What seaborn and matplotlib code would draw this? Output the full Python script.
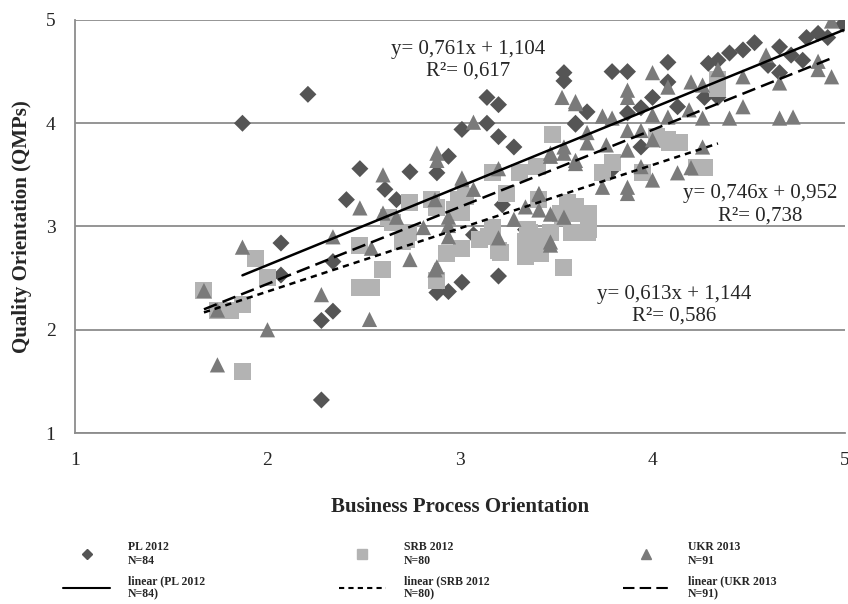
import matplotlib
matplotlib.use("Agg")
import matplotlib.pyplot as plt
import seaborn as sns
import pandas as pd
import numpy as np
from matplotlib.lines import Line2D

# ---- data ----
series_names = ['PL 2012', 'SRB 2012', 'UKR 2013']
legend_points = ['PL 2012\nN=84', 'SRB 2012\nN=80', 'UKR 2013\nN=91']
legend_lines = ['linear (PL 2012\nN=84)', 'linear (SRB 2012\nN=80)', 'linear (UKR 2013\nN=91)']

pl_x = [1.87, 2.21, 2.48, 2.41, 2.07, 2.07, 2.34, 2.28, 2.34, 2.28,
        3.14, 3.20, 3.14, 3.01, 3.20, 3.28, 2.94, 2.88, 2.74, 2.61, 2.67, 3.54, 3.54, 3.60,
        2.88, 2.94, 3.01, 3.20, 3.07, 3.34, 3.22,
        3.79, 3.87, 4.08, 4.08, 4.00, 4.13, 3.94, 3.87, 3.66, 3.60, 3.94, 4.29, 4.34, 4.40,
        4.47, 4.53, 4.66, 4.60, 4.72, 4.78, 4.80, 4.86, 4.91, 4.99, 4.66, 4.27, 4.34, 3.79]
pl_y = [4.00, 4.28, 3.56, 3.26, 2.84, 2.53, 2.66, 2.09, 2.18, 1.32,
        4.25, 4.18, 4.00, 3.94, 3.87, 3.77, 3.68, 3.52, 3.53, 3.36, 3.26, 4.49, 4.41, 4.00,
        2.36, 2.37, 2.46, 2.52, 2.92, 2.97, 3.21,
        4.50, 4.50, 4.59, 4.40, 4.25, 4.16, 4.15, 4.10, 4.11, 3.99, 3.77, 4.58, 4.61, 4.68,
        4.71, 4.78, 4.74, 4.56, 4.66, 4.61, 4.83, 4.87, 4.83, 4.96, 4.49, 4.25, 4.25, 3.55]

srb_x = [1.67, 1.74, 1.81, 1.87, 1.94, 2.00, 1.87, 2.48, 2.48, 2.54, 2.60, 2.72, 2.73,
         2.85, 2.99, 2.65, 2.74, 2.63, 2.88, 2.93, 3.01, 3.20, 3.34, 3.34, 3.54, 2.70,
         3.15, 3.17, 3.43, 3.47, 2.88, 2.97, 3.01, 3.56, 3.52, 3.35,
         3.48, 4.08, 4.14, 4.27, 4.23, 4.34, 4.34, 4.09, 3.67, 3.67, 3.60, 3.74, 3.95,
         3.03, 3.17, 3.31, 3.24, 3.40, 3.41, 3.60, 3.53, 3.58, 3.66, 3.36, 3.10, 3.21,
         3.42, 4.02, 3.79]
srb_y = [2.38, 2.19, 2.19, 2.24, 2.69, 2.51, 1.60, 2.82, 2.41, 2.41, 2.58, 2.87, 2.94,
         3.26, 3.26, 3.04, 3.23, 3.09, 2.48, 2.74, 2.79, 2.77, 2.71, 2.85, 2.60, 2.85,
         2.90, 2.99, 2.90, 2.94, 3.18, 3.16, 3.14, 3.23, 3.13, 2.97,
         3.89, 3.84, 3.81, 3.57, 3.57, 4.34, 4.42, 3.81, 2.97, 3.13, 3.13, 3.52, 3.52,
         3.29, 3.52, 3.52, 3.32, 3.58, 3.26, 3.19, 3.09, 2.94, 2.94, 2.94, 2.87, 2.75,
         2.74, 3.87, 3.62]

ukr_x = [1.67, 1.74, 1.74, 1.87, 2.00, 2.28, 2.34, 2.53, 2.48,
         2.60, 2.60, 2.67, 2.54, 2.74, 2.88, 2.88, 2.87, 2.94, 2.87, 2.81,
         3.07, 3.01, 3.07, 3.20, 3.53, 3.60, 3.47, 3.54, 3.41,
         2.88, 2.94, 2.94, 3.20, 3.28, 3.41, 3.47, 3.54, 3.47,
         4.93, 4.86, 4.93, 4.86, 4.59, 4.47, 4.66, 4.00, 3.87, 3.87, 4.20, 4.26, 4.08,
         4.47, 4.66, 4.73, 4.26, 4.40, 4.19, 4.08, 4.00, 3.60, 3.74, 3.79, 3.94, 4.26,
         4.34, 3.66, 3.87, 3.60, 3.66, 3.76, 3.87, 4.00, 4.13, 4.20, 4.00, 3.94, 3.87,
         3.87, 3.74, 3.60, 3.54, 3.47, 3.41, 3.34, 3.01, 3.47]
ukr_y = [2.38, 2.19, 1.66, 2.80, 2.00, 2.34, 2.90, 2.10, 3.18,
         3.50, 3.13, 3.09, 2.79, 2.68, 3.71, 3.64, 2.58, 3.09, 3.26, 2.99,
         4.01, 3.47, 3.36, 3.56, 4.25, 4.19, 3.68, 3.77, 3.31,
         2.61, 2.90, 3.01, 2.89, 3.07, 3.16, 3.12, 3.09, 2.85,
         4.99, 4.60, 4.45, 4.52, 4.66, 4.45, 4.39, 4.49, 4.32, 4.25, 4.40, 4.37, 4.35,
         4.16, 4.05, 4.06, 4.05, 4.05, 4.13, 4.06, 4.08, 4.21, 4.07, 4.05, 3.93, 3.77,
         4.52, 3.91, 3.93, 3.64, 3.81, 3.79, 3.74, 3.84, 3.52, 3.57, 3.45, 3.58, 3.38,
         3.32, 3.38, 3.61, 3.71, 3.71, 3.32, 3.19, 3.45, 2.82]

# trend lines as printed on the chart
slopes = [0.761, 0.613, 0.746]
intercepts = [1.104, 1.144, 0.952]
r2_values = [0.617, 0.586, 0.738]

# ---- styling ----
colors = {'PL 2012': '#555555', 'SRB 2012': '#b3b3b3', 'UKR 2013': '#7a7a7a'}
markers = {'PL 2012': 'D', 'SRB 2012': 's', 'UKR 2013': '^'}
sizes = {'PL 2012': 75, 'SRB 2012': 150, 'UKR 2013': 120}
line_styles = ['-', (0, (2.5, 2)), (0, (5.5, 2.5))]

sns.set_theme(style='white')
plt.rcParams['font.family'] = ['Liberation Serif', 'DejaVu Serif']

df = pd.concat([
    pd.DataFrame({'x': pl_x, 'y': pl_y, 'Series': 'PL 2012'}),
    pd.DataFrame({'x': srb_x, 'y': srb_y, 'Series': 'SRB 2012'}),
    pd.DataFrame({'x': ukr_x, 'y': ukr_y, 'Series': 'UKR 2013'}),
], ignore_index=True)

fig = plt.figure(figsize=(8.48, 6.04), dpi=100)
ax = fig.add_axes([0.0884, 0.2831, 0.9081, 0.6838])

sns.scatterplot(data=df, x='x', y='y', hue='Series', style='Series', size='Series',
                palette=colors, markers=markers, sizes=sizes,
                hue_order=series_names, linewidth=0, legend=False, ax=ax, zorder=3)

# trend lines over each series' x-range
groups = [(pl_x, pl_y), (srb_x, srb_y), (ukr_x, ukr_y)]
for (gx, gy), m, b, ls in zip(groups, slopes, intercepts, line_styles):
    xs = np.array([min(gx), max(gx)])
    ax.plot(xs, m * xs + b, color='black', lw=1.8, ls=ls, zorder=4)

# equation labels
def fmt(v):
    return f'{v:.3f}'.replace('.', ',')

label_pos = [(3.04, 4.61), (4.11, 2.24), (4.56, 3.21)]
for (lx, ly), m, b, r2 in zip(label_pos, slopes, intercepts, r2_values):
    ax.text(lx, ly, f'y= {fmt(m)}x + {fmt(b)}\nR²= {fmt(r2)}', ha='center', va='center',
            fontsize=15, linespacing=1.2, zorder=5)

ax.set_xlim(1, 5)
ax.set_ylim(1, 5)
ax.set_xticks([1, 2, 3, 4, 5])
ax.set_yticks([1, 2, 3, 4, 5])
ax.yaxis.grid(True, color='#8c8c8c', lw=1.3)
ax.xaxis.grid(False)
ax.set_axisbelow(True)
for side in ['top', 'right']:
    ax.spines[side].set_visible(False)
for side in ['left', 'bottom']:
    ax.spines[side].set_color('#8c8c8c')
    ax.spines[side].set_linewidth(1.3)
ax.tick_params(axis='both', length=0, labelsize=14, pad=14)
ax.set_xlabel('Business Process Orientation', fontsize=15, fontweight='bold', labelpad=20)
ax.set_ylabel('Quality Orientation (QMPs)', fontsize=15, fontweight='bold', labelpad=10)

# legend below the plot
handles, labels = [], []
for name, pt_lab, ln_lab, ls in zip(series_names, legend_points, legend_lines, line_styles):
    handles.append(Line2D([], [], ls='none', marker=markers[name], color=colors[name],
                          markersize=5 if name == 'PL 2012' else 6.5))
    labels.append(pt_lab)
    handles.append(Line2D([], [], color='black', lw=1.5, ls=ls))
    labels.append(ln_lab)
fig.legend(handles, labels, ncol=3, loc='lower left', bbox_to_anchor=(0.062, -0.012),
           frameon=False, handlelength=4, handletextpad=1.5, columnspacing=11.3,
           labelspacing=0.7,
           prop={'family': 'Liberation Serif', 'weight': 'bold', 'size': 8.5})

fig.savefig('out.png', dpi=100)
